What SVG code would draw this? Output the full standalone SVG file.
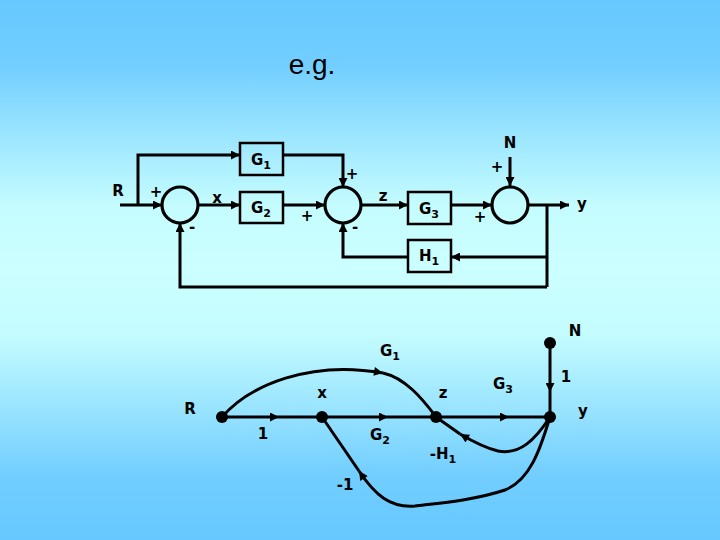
<svg xmlns="http://www.w3.org/2000/svg" width="720" height="540" viewBox="0 0 720 540">
<defs>
<linearGradient id="bg" x1="0" y1="0" x2="0" y2="1">
<stop offset="0" stop-color="#66c8ff"/>
<stop offset="0.12" stop-color="#72ceff"/>
<stop offset="0.38" stop-color="#c4fcff"/>
<stop offset="0.5" stop-color="#ccffff"/>
<stop offset="0.62" stop-color="#c4fcff"/>
<stop offset="0.88" stop-color="#72ceff"/>
<stop offset="1" stop-color="#66c8ff"/>
</linearGradient>
<marker id="arr" viewBox="0 0 10 10" refX="10" refY="5" markerWidth="11" markerHeight="9" markerUnits="userSpaceOnUse" orient="auto">
<path d="M0,0 L10,5 L0,10 z" fill="#000"/>
</marker>
</defs>
<style>
.ln{fill:none;stroke:#000;stroke-width:3;stroke-linejoin:miter}
.ar{fill:none;stroke:#000;stroke-width:3;marker-end:url(#arr)}
.box{fill:none;stroke:#000;stroke-width:2.5}
.sum{fill:none;stroke:#000;stroke-width:3.2}
.nd{fill:#000}
.t{font-family:"DejaVu Sans",Verdana,sans-serif;font-weight:bold;font-size:15px;fill:#000;text-anchor:middle}
.sub{font-size:11px}
.title{font-family:"Liberation Sans",Arial,sans-serif;font-size:28px;fill:#000;text-anchor:middle}
</style>
<rect x="0" y="0" width="720" height="540" fill="url(#bg)"/>
<text class="title" x="312" y="74">e.g.</text>

<g id="connectors">
<path class="ar" d="M120,205 L162,205"/>
<path class="ar" d="M138,205 L138,155 L240,155"/>
<path class="ar" d="M198,205 L240,205"/>
<path class="ar" d="M283,205 L325,205"/>
<path class="ar" d="M283,155 L343,155 L343,187"/>
<path class="ar" d="M361,205 L408,205"/>
<path class="ar" d="M451,205 L492,205"/>
<path class="ar" d="M510,157 L510,186"/>
<path class="ar" d="M528,205 L569,205"/>
<path class="ln" d="M547,205 L547,287"/>
<path class="ar" d="M547,257 L451,257"/>
<path class="ar" d="M408,257 L343,257 L343,223"/>
<path class="ar" d="M547,287 L180,287 L180,223"/>

<path class="ar" d="M222,417 L279,417"/>
<path class="ln" d="M279,417 L322,417"/>
<path class="ar" d="M322,417 L388,417"/>
<path class="ln" d="M388,417 L436,417"/>
<path class="ar" d="M436,417 L509,417"/>
<path class="ln" d="M509,417 L550,417"/>
<path class="ar" d="M550,343 L550,392"/>
<path class="ln" d="M550,392 L550,417"/>
<path class="ar" d="M222,417 C250,385 310,360 383,373"/>
<path class="ln" d="M383,373 C405,378 422,398 436,417"/>
<path class="ar" d="M550,417 C535,440 520,455 498,451 C485,448 472,441 460,434"/>
<path class="ln" d="M460,434 L436,417"/>
<path class="ar" d="M550,417 C540,450 530,480 505,490 C475,500 440,503 415,506 C390,508 375,495 359,471"/>
<path class="ln" d="M359,471 L322,417"/>
</g>

<g id="sum1"><circle class="sum" cx="180" cy="205" r="18"/></g>
<g id="sum2"><circle class="sum" cx="343" cy="205" r="18"/></g>
<g id="sum3"><circle class="sum" cx="510" cy="205" r="18"/></g>
<g id="G1"><rect class="box" x="240" y="143" width="43" height="32"/><text class="t" x="261" y="165">G<tspan class="sub" dy="4">1</tspan></text></g>
<g id="G2"><rect class="box" x="240" y="192" width="43" height="31"/><text class="t" x="261" y="213">G<tspan class="sub" dy="4">2</tspan></text></g>
<g id="G3"><rect class="box" x="408" y="192" width="43" height="32"/><text class="t" x="429" y="214">G<tspan class="sub" dy="4">3</tspan></text></g>
<g id="H1"><rect class="box" x="408" y="240" width="43" height="32"/><text class="t" x="429" y="261">H<tspan class="sub" dy="4">1</tspan></text></g>

<g id="labels-top">
<text class="t" x="118" y="196">R</text>
<text class="t" x="156" y="197">+</text>
<text class="t" x="192" y="232">-</text>
<text class="t" x="217" y="203">x</text>
<text class="t" x="352" y="179">+</text>
<text class="t" x="307" y="221">+</text>
<text class="t" x="355" y="232">-</text>
<text class="t" x="383" y="201">z</text>
<text class="t" x="510" y="148">N</text>
<text class="t" x="497" y="172">+</text>
<text class="t" x="480" y="222">+</text>
<text class="t" x="582" y="209">y</text>
</g>

<g id="nR"><circle class="nd" cx="222" cy="417" r="6"/><text class="t" x="190" y="414">R</text></g>
<g id="nx"><circle class="nd" cx="322" cy="417" r="6"/><text class="t" x="322" y="398">x</text></g>
<g id="nz"><circle class="nd" cx="436" cy="417" r="6"/><text class="t" x="443" y="398">z</text></g>
<g id="ny"><circle class="nd" cx="550" cy="417" r="6"/><text class="t" x="583" y="416">y</text></g>
<g id="nN"><circle class="nd" cx="550" cy="343" r="6"/><text class="t" x="575" y="336">N</text></g>
<g id="labels-sfg">
<text class="t" x="263" y="439">1</text>
<text class="t" x="390" y="356">G<tspan class="sub" dy="4">1</tspan></text>
<text class="t" x="380" y="440">G<tspan class="sub" dy="4">2</tspan></text>
<text class="t" x="503" y="389">G<tspan class="sub" dy="4">3</tspan></text>
<text class="t" x="443" y="459">-H<tspan class="sub" dy="4">1</tspan></text>
<text class="t" x="345" y="490">-1</text>
<text class="t" x="566" y="382">1</text>
</g>
</svg>
